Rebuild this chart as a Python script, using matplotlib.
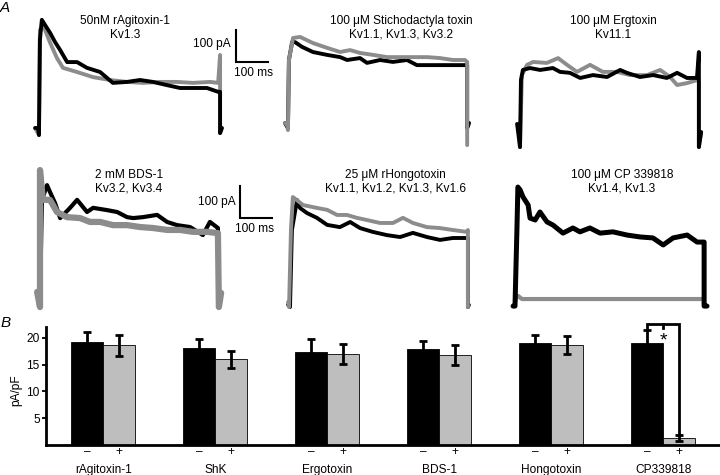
import matplotlib
matplotlib.use("Agg")
import matplotlib.pyplot as plt
import numpy as np

plt.rcParams['font.family'] = ['Liberation Sans', 'DejaVu Sans']
FS = 8.6

W, H = 720, 475
S = 0.32  # pixels per ms and per pA in panel A

# ---------------- Panel A data (time in ms, current in pA) ----------------
# 1: rAgitoxin-1
p1_t_ctrl = [-9, 0, 3, 6, 12, 22, 38, 53, 69, 91, 122, 153, 194, 234, 278, 319, 359, 403, 444, 484, 528, 563, 569, 569, 575]
p1_i_ctrl = [0, 0, -22, 275, 338, 322, 297, 269, 244, 206, 206, 188, 175, 141, 144, 150, 144, 134, 125, 125, 125, 113, 113, -16, 0]
p1_t_tox = [-9, 3, 6, 16, 38, 59, 78, 122, 172, 225, 278, 328, 381, 434, 484, 538, 563, 569, 569, 572]
p1_i_tox = [0, -22, 306, 322, 266, 219, 188, 175, 159, 150, 144, 141, 144, 144, 141, 144, 141, 228, -16, 0]

# 2: Stichodactyla toxin
p2_t_ctrl = [-6, 3, 6, 16, 25, 47, 81, 125, 166, 188, 228, 250, 291, 331, 375, 406, 438, 478, 519, 556, 563, 563, 569]
p2_i_ctrl = [3, -13, 200, 256, 256, 241, 225, 216, 209, 200, 206, 191, 200, 194, 200, 184, 184, 184, 184, 184, 184, -13, 3]
p2_t_tox = [-6, 0, 3, 6, 19, 41, 81, 125, 166, 197, 228, 269, 313, 353, 394, 438, 478, 519, 556, 563, 563]
p2_i_tox = [3, 0, -19, 200, 269, 272, 253, 238, 225, 231, 222, 216, 209, 209, 209, 209, 206, 200, 200, 194, -66]

# 3: Ergtoxin
p3_t_ctrl = [-9, 0, 3, 9, 31, 63, 103, 125, 156, 188, 228, 272, 313, 334, 375, 416, 459, 491, 522, 553, 559, 559, 566]
p3_i_ctrl = [3, -69, 141, 172, 178, 172, 178, 166, 163, 147, 156, 150, 172, 163, 150, 156, 147, 163, 147, 147, 228, -69, -22]
p3_t_tox = [-9, -3, 0, 6, 22, 41, 84, 119, 147, 178, 219, 259, 303, 344, 397, 438, 469, 491, 522, 556, 559, 559, 566]
p3_i_tox = [3, 0, -69, 156, 188, 197, 194, 209, 188, 166, 188, 166, 166, 156, 156, 172, 150, 125, 131, 141, 141, -69, -22]

# 4: BDS-1
p4_t_ctrl = [-9, 0, 6, 22, 31, 47, 63, 94, 116, 147, 166, 209, 241, 272, 291, 322, 366, 397, 428, 469, 509, 531, 556, 559]
p4_i_ctrl = [0, -25, 288, 334, 313, 278, 231, 263, 288, 250, 263, 256, 250, 234, 231, 234, 241, 219, 209, 203, 178, 219, 200, -25]
p4_t_tox = [-9, 0, 0, 9, 31, 53, 84, 125, 156, 188, 228, 272, 313, 353, 397, 438, 478, 522, 556, 559, 566]
p4_i_tox = [0, -47, 381, 288, 288, 250, 234, 231, 219, 219, 209, 209, 203, 200, 194, 194, 188, 188, 184, -47, -3]

# 5: rHongotoxin
p5_t_ctrl = [-6, 0, 6, 22, 31, 53, 84, 116, 156, 188, 219, 259, 303, 344, 384, 428, 469, 509, 547, 556, 556, 559]
p5_i_ctrl = [-9, -16, 225, 319, 294, 278, 263, 241, 234, 250, 231, 219, 209, 203, 216, 203, 194, 200, 200, 200, -16, -9]
p5_t_tox = [-6, -3, 3, 9, 41, 84, 116, 147, 178, 209, 241, 281, 322, 353, 384, 428, 469, 509, 553, 556, 556]
p5_i_tox = [0, -16, 225, 328, 303, 294, 288, 272, 272, 263, 256, 247, 247, 263, 247, 234, 231, 225, 219, 225, -16]

# 6: CP 339818
p6_t_ctrl = [-6, 0, 6, 9, 16, 25, 41, 47, 63, 78, 100, 119, 150, 181, 203, 234, 266, 306, 350, 391, 431, 463, 494, 538, 569, 591, 591, 600]
p6_i_ctrl = [-19, -19, 219, 353, 344, 322, 297, 256, 250, 275, 244, 234, 209, 225, 213, 225, 209, 213, 203, 197, 194, 172, 194, 203, 181, 181, -19, -19]
p6_t_tox = [0, 9, 22, 266, 584]
p6_i_tox = [0, 13, 3, 3, 3]

panels = [
    dict(x0=38, y0=128, ctrl=(p1_t_ctrl, p1_i_ctrl), tox=(p1_t_tox, p1_i_tox),
         title="50nM rAgitoxin-1\nKv1.3", tx=125, ty=28, tox_top=False, lwc=2.8, lwt=2.8),
    dict(x0=287, y0=124, ctrl=(p2_t_ctrl, p2_i_ctrl), tox=(p2_t_tox, p2_i_tox),
         title="100 μM Stichodactyla toxin\nKv1.1, Kv1.3, Kv3.2", tx=401, ty=28, tox_top=True, lwc=2.8, lwt=2.8),
    dict(x0=520, y0=125, ctrl=(p3_t_ctrl, p3_i_ctrl), tox=(p3_t_tox, p3_i_tox),
         title="100 μM Ergtoxin\nKv11.1", tx=613, ty=28, tox_top=False, lwc=2.8, lwt=2.8),
    dict(x0=40, y0=292, ctrl=(p4_t_ctrl, p4_i_ctrl), tox=(p4_t_tox, p4_i_tox),
         title="2 mM BDS-1\nKv3.2, Kv3.4", tx=129, ty=182, tox_top=True, lwc=3.0, lwt=4.5),
    dict(x0=290, y0=302, ctrl=(p5_t_ctrl, p5_i_ctrl), tox=(p5_t_tox, p5_i_tox),
         title="25 μM rHongotoxin\nKv1.1, Kv1.2, Kv1.3, Kv1.6", tx=395, ty=182, tox_top=True, lwc=2.8, lwt=2.8),
    dict(x0=515, y0=300, ctrl=(p6_t_ctrl, p6_i_ctrl), tox=(p6_t_tox, p6_i_tox),
         title="100 μM CP 339818\nKv1.4, Kv1.3", tx=622, ty=182, tox_top=False, lwc=3.6, lwt=3.0),
]

scale_ms = 100
scale_pa = 100

# ---------------- Panel B data ----------------
groups = ["rAgitoxin-1", "ShK", "Ergotoxin", "BDS-1", "Hongotoxin", "CP339818"]
ctrl_vals = [19.2, 18.2, 17.4, 17.9, 19.1, 19.1]
ctrl_err = [2.0, 1.6, 2.4, 1.6, 1.5, 2.4]
tox_vals = [18.6, 16.0, 17.0, 16.8, 18.7, 1.3]
tox_err = [1.9, 1.6, 1.8, 1.8, 1.7, 0.5]
y_ticks = [5, 10, 15, 20]

TRACE_GRAY = "#8c8c8c"
BAR_GRAY = "#bebebe"

fig = plt.figure(figsize=(W / 100, H / 100), dpi=100)


def trace_axes(x0, y0):
    lp, rp, tp, bp = x0 - 25, x0 + 230, y0 - 135, y0 + 25
    ax = fig.add_axes([lp / W, 1 - bp / H, (rp - lp) / W, (bp - tp) / H])
    ax.set_xlim(-25 / S, 230 / S)
    ax.set_ylim(-25 / S, 135 / S)
    ax.axis('off')
    return ax


axes_A = []
for p in panels:
    ax = trace_axes(p['x0'], p['y0'])
    axes_A.append(ax)
    zc, zt = (2, 3) if not p['tox_top'] else (3, 2)
    ax.plot(p['ctrl'][0], p['ctrl'][1], color='black', lw=p['lwc'], zorder=zt,
            solid_joinstyle='round', solid_capstyle='round', clip_on=False)
    ax.plot(p['tox'][0], p['tox'][1], color=TRACE_GRAY, lw=p['lwt'], zorder=zc,
            solid_joinstyle='round', solid_capstyle='round', clip_on=False)
    fig.text(p['tx'] / W, 1 - p['ty'] / H, p['title'], ha='center', va='center',
             fontsize=FS, linespacing=1.2)

# scale bars
for ax, (t0, i0), (tl, il), (tm, im) in [
        (axes_A[0], (619, 206), (603, 262), (675, 173)),
        (axes_A[3], (625, 231), (612, 281), (670, 197))]:
    ax.plot([t0, t0, t0 + scale_ms], [i0 + scale_pa, i0, i0], color='black', lw=1.5,
            clip_on=False, solid_joinstyle='miter')
    ax.text(tl, il, f"{scale_pa} pA", ha='right', va='center', fontsize=FS)
    ax.text(tm, im, f"{scale_ms} ms", ha='center', va='center', fontsize=FS)

fig.text(5 / W, 1 - 8 / H, "A", fontsize=11, style='italic', ha='center', va='center')
fig.text(6 / W, 1 - 323 / H, "B", fontsize=11, style='italic', ha='center', va='center')

# ---------------- Panel B ----------------
left_px, top_px, bot_px = 46, 327, 445
axB = fig.add_axes([left_px / W, 1 - bot_px / H, (720 - left_px) / W, (bot_px - top_px) / H])
x = np.arange(len(groups))
bw = 0.286
axB.bar(x - bw / 2, ctrl_vals, bw, color='black', edgecolor='black', lw=0.6, zorder=2)
axB.bar(x + bw / 2, tox_vals, bw, color=BAR_GRAY, edgecolor='black', lw=0.6, zorder=2)
axB.errorbar(x - bw / 2, ctrl_vals, yerr=ctrl_err, fmt='none', ecolor='black',
             elinewidth=2.0, capsize=2.8, capthick=2.0, zorder=3)
axB.errorbar(x + bw / 2, tox_vals, yerr=tox_err, fmt='none', ecolor='black',
             elinewidth=2.0, capsize=2.8, capthick=2.0, zorder=3)
axB.set_xlim((left_px - 103.3) / 112, (720 - left_px + left_px - 103.3) / 112)
axB.set_ylim(0, 22.05)
axB.set_yticks(y_ticks)
axB.tick_params(axis='y', direction='out', length=3, width=1.3, labelsize=FS, pad=1.5)
axB.set_xticks([])
for s in ['top', 'right']:
    axB.spines[s].set_visible(False)
for s in ['left', 'bottom']:
    axB.spines[s].set_linewidth(2.0)

trans = axB.get_xaxis_transform()
for i, g in enumerate(groups):
    axB.text(i - bw / 2, -0.057, "–", transform=trans, ha='center', va='center', fontsize=FS)
    axB.text(i + bw / 2, -0.057, "+", transform=trans, ha='center', va='center', fontsize=FS)
    axB.text(i, -0.21, g, transform=trans, ha='center', va='center', fontsize=FS)

fig.text(16 / W, 1 - 390 / H, "pA/pF", rotation=90, ha='center', va='center', fontsize=FS)

# significance bracket for CP339818
k = len(groups) - 1
top = ctrl_vals[k] + ctrl_err[k] + 1.1
axB.plot([k - bw / 2, k - bw / 2, k + bw / 2, k + bw / 2],
         [ctrl_vals[k] + ctrl_err[k], top, top, tox_vals[k] + tox_err[k]],
         color='black', lw=2.0, clip_on=False, zorder=4, solid_joinstyle='miter')
axB.plot([k, k], [top, top - 0.8], color='black', lw=2.0, clip_on=False, zorder=4)
axB.text(k, top - 3.2, "*", ha='center', va='center', fontsize=14)

fig.savefig("out.png", dpi=100)
